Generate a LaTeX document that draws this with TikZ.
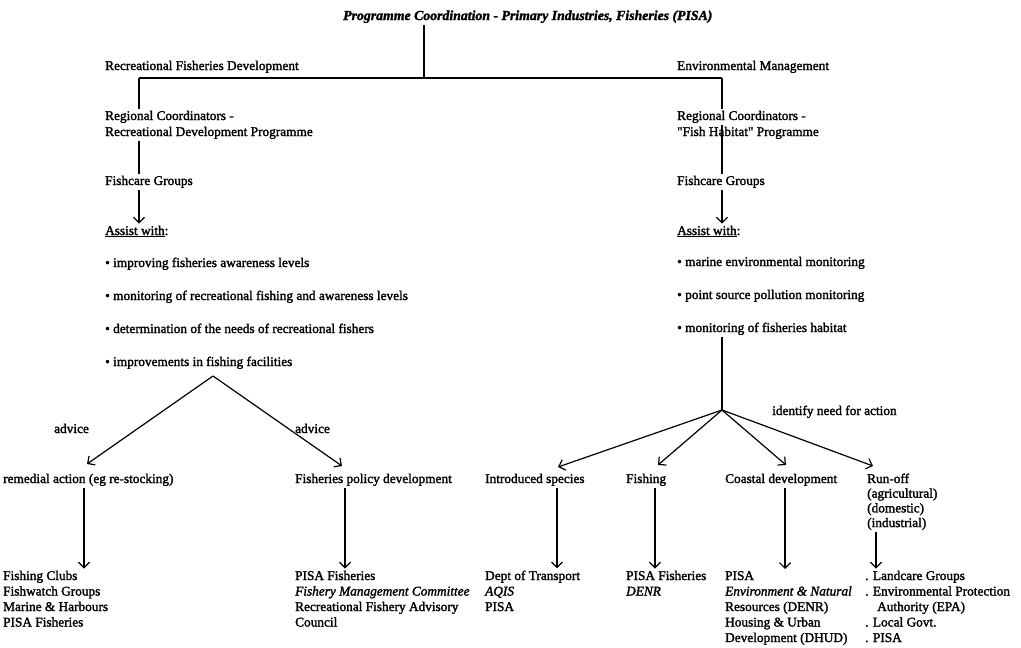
\documentclass[tikz,border=0pt]{standalone}
\usepackage{fontspec}
\newfontfamily\bodyfont{Liberation Serif}[FakeBold=1.8]
\usetikzlibrary{arrows.meta}
\begin{document}
\begin{tikzpicture}[x=1pt,y=-1pt,
  txt/.style={anchor=base west, inner xsep=0pt, inner ysep=2pt, font=\bodyfont\fontsize{13.3}{15.5}\selectfont, align=left},
  ln/.style={line width=1.2pt},
  arr/.style={line width=1.2pt, -{Straight Barb[length=5.5pt,width=11pt]}}]
\useasboundingbox (0,0) rectangle (1021,648);

% texts (multi-line nodes are placed by the baseline of their last line)
\node[txt, font=\bodyfont\fontsize{13.8}{15}\selectfont\bfseries\itshape] (title) at (343,20) {Programme Coordination - Primary Industries, Fisheries (PISA)};
\node[txt] (rfd) at (105,70) {Recreational Fisheries Development};
\node[txt] (em) at (677,70) {Environmental Management};
\node[txt, font=\bodyfont\fontsize{13.3}{16}\selectfont] (rcL) at (105,136) {Regional Coordinators -\\Recreational Development Programme};
\node[txt, font=\bodyfont\fontsize{13.3}{16}\selectfont] (rcR) at (677,136) {Regional Coordinators -\\"Fish Habitat" Programme};
\node[txt] (fgL) at (105,185) {Fishcare Groups};
\node[txt] (fgR) at (677,185) {Fishcare Groups};
\node[txt] (awL) at (105,235) {\underline{Assist with}:};
\node[txt] (awR) at (677,235) {\underline{Assist with}:};
\node[txt] (bL1) at (105,267) {\textbullet\ improving fisheries awareness levels};
\node[txt] (bL2) at (105,300) {\textbullet\ monitoring of recreational fishing and awareness levels};
\node[txt] (bL3) at (105,333) {\textbullet\ determination of the needs of recreational fishers};
\node[txt] (bL4) at (105,366) {\textbullet\ improvements in fishing facilities};
\node[txt] (bR1) at (677,266) {\textbullet\ marine environmental monitoring};
\node[txt] (bR2) at (677,299) {\textbullet\ point source pollution monitoring};
\node[txt] (bR3) at (677,332) {\textbullet\ monitoring of fisheries habitat};
\node[txt] (adL) at (54,433) {advice};
\node[txt] (adR) at (295,433) {advice};
\node[txt] (idn) at (772,415) {identify need for action};
\node[txt] (rem) at (3,483) {remedial action (eg re-stocking)};
\node[txt] (fpd) at (295,483) {Fisheries policy development};
\node[txt] (int) at (485,483) {Introduced species};
\node[txt] (fsh) at (626,483) {Fishing};
\node[txt] (cst) at (725,483) {Coastal development};
\node[txt, font=\bodyfont\fontsize{13.3}{14.7}\selectfont] (run) at (867,527.1) {Run-off\\(agricultural)\\(domestic)\\(industrial)};
\node[txt] (lc) at (3,626.5) {Fishing Clubs\\Fishwatch Groups\\Marine \& Harbours\\PISA Fisheries};
\node[txt] (lp) at (295,626.5) {PISA Fisheries\\\textit{Fishery Management Committee}\\Recreational Fishery Advisory\\Council};
\node[txt] (ld) at (485,611) {Dept of Transport\\\textit{AQIS}\\PISA};
\node[txt] (lf) at (626,595.5) {PISA Fisheries\\\textit{DENR}};
\node[txt] (lcd) at (725,642) {PISA\\\textit{Environment \& Natural}\\Resources (DENR)\\Housing \& Urban\\Development (DHUD)};
\node[txt] (lr) at (865,642) {. Landcare Groups\\. Environmental Protection\\\hspace*{12pt}Authority (EPA)\\. Local Govt.\\. PISA};

% junctions
\coordinate (top) at (424,78);
\coordinate (lt) at (139,78);
\coordinate (rt) at (722,78);
\coordinate (rmid) at (722,125);
\coordinate (apL) at (213,376);
\coordinate (apR) at (722,410);
\coordinate (tRem) at (87,464);
\coordinate (tFpd) at (342,466);
\coordinate (tInt) at (558,467);
\coordinate (tFsh) at (658,465);
\coordinate (tCst) at (786,465);
\coordinate (tRun) at (873,466);
\coordinate (xRem) at (84,0);
\coordinate (xFpd) at (345,0);
\coordinate (xInt) at (557,0);
\coordinate (xFsh) at (655,0);
\coordinate (xCst) at (785,0);
\coordinate (xRun) at (876,0);

% connectors
\draw[ln] (title.south -| top) -- (top);
\draw[ln] (lt) -- (rt);
\draw[ln] (lt) -- (lt |- rcL.north);
\draw[ln] (rt) -- (rt |- rcR.north);
\draw[ln] (rcL.south -| lt) -- (fgL.north -| lt);
\draw[ln] (rmid) -- (fgR.north -| rt);
\draw[arr] (fgL.south -| lt) -- (awL.north -| lt);
\draw[arr] (fgR.south -| rt) -- (awR.north -| rt);
\draw[arr] (apL) -- (tRem);
\draw[arr] (apL) -- (tFpd);
\draw[ln] (bR3.south -| rt) -- (apR);
\draw[arr] (apR) -- (tInt);
\draw[arr] (apR) -- (tFsh);
\draw[arr] (apR) -- (tCst);
\draw[arr] (apR) -- (tRun);
\draw[arr] (rem.south -| xRem) -- (lc.north -| xRem);
\draw[arr] (fpd.south -| xFpd) -- (lp.north -| xFpd);
\draw[arr] (int.south -| xInt) -- (ld.north -| xInt);
\draw[arr] (fsh.south -| xFsh) -- (lf.north -| xFsh);
\draw[arr] (cst.south -| xCst) -- (lcd.north -| xCst);
\draw[arr] (run.south -| xRun) -- (lr.north -| xRun);
\end{tikzpicture}
\end{document}
